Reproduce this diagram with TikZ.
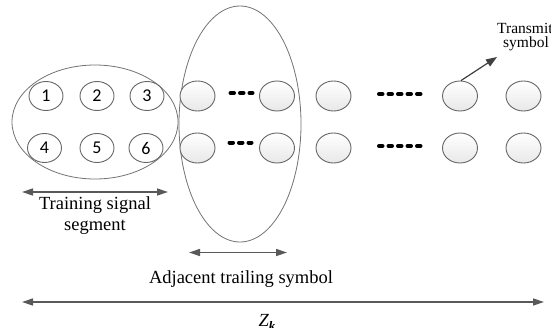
\documentclass[tikz,border=0pt]{standalone}
\usepackage{fontspec}
\setmainfont{Liberation Serif}
\newfontfamily\numfont{Carlito}
\usetikzlibrary{shapes.geometric,arrows.meta}
\begin{document}
\begin{tikzpicture}[x=1pt,y=-1pt,
  numcirc/.style={ellipse,draw=black!60,line width=0.9pt,fill=white,minimum width=34pt,minimum height=29pt,inner sep=0pt,font=\numfont\fontsize{18}{18}\selectfont},
  symcirc/.style={ellipse,draw=black!60,line width=0.9pt,top color=white,bottom color=black!9,minimum width=35pt,minimum height=30pt,inner sep=0pt},
  groupell/.style={draw=black!55,line width=0.8pt},
  dotsline/.style={line width=4pt,line cap=round,dash pattern=on 3.5pt off 6pt,black},
  dimarrow/.style={draw=black!65,line width=1.4pt,{Triangle[length=11pt,width=7pt]}-{Triangle[length=11pt,width=7pt]}},
  ptrarrow/.style={draw=black!75,line width=1.2pt,-{Triangle[length=11pt,width=8pt]}},
  lbl/.style={font=\fontsize{18.5}{21}\selectfont,inner sep=0pt},
  smlbl/.style={font=\fontsize{15.5}{15.5}\selectfont,inner sep=0pt,anchor=base west}
]
\useasboundingbox (0,0) rectangle (551,327);
\clip (0,0) rectangle (551,327);
\fill[white] (0,0) rectangle (551,327);

% group ellipses
\draw[groupell] (95,122) ellipse [x radius=83pt, y radius=57pt];
\draw[groupell] (240,124) ellipse [x radius=61pt, y radius=118pt];

% numbered circles
\node[numcirc] (n1) at (46,96) {1};
\node[numcirc] (n2) at (97,96) {2};
\node[numcirc] (n3) at (147,96) {3};
\node[numcirc] (n4) at (44.5,148) {4};
\node[numcirc] (n5) at (97,148) {5};
\node[numcirc] (n6) at (146,148) {6};

% symbol circles
\foreach \i/\x in {a/197.5,b/277,c/333.5,d/460,e/523.5}{
  \node[symcirc] (t\i) at (\x,96) {};
  \node[symcirc] (u\i) at (\x,148) {};
}

% dots
\draw[dotsline] (230.5,93) -- (252.5,93);
\draw[dotsline] (229.5,142.5) -- (251.5,142.5);
\draw[dotsline] (379,94) -- (421,94);
\draw[dotsline] (379,146) -- (421,146);

% transmit arrow and label
\coordinate (tip) at (497,57);
\draw[ptrarrow] (td.north) ++(1,0) -- (tip);
\node[smlbl] (tx1) at (497,33) {Transmit};
\node[smlbl] (tx2) at (503,47.5) {symbol};

% training dimension
\coordinate (trL) at (22,192);
\coordinate (trR) at (168,192);
\draw[dimarrow] (trL) -- (trR);
\node[lbl,align=center,anchor=north] (trlbl) at (95,196) {Training signal\\segment};

% adjacent dimension
\coordinate (adL) at (189,252.5);
\coordinate (adR) at (287,252.5);
\draw[dimarrow] (adL) -- (adR);
\node[lbl,anchor=base] (adlbl) at (241,283) {Adjacent trailing symbol};

% Zk dimension
\coordinate (zL) at (22,302);
\coordinate (zR) at (544,302);
\draw[dimarrow] (zL) -- (zR);
\node[lbl,anchor=base] (zlbl) at (267,326) {\itshape Z\raisebox{-4pt}{\fontsize{13}{13}\selectfont\bfseries\itshape k}};
\end{tikzpicture}
\end{document}
